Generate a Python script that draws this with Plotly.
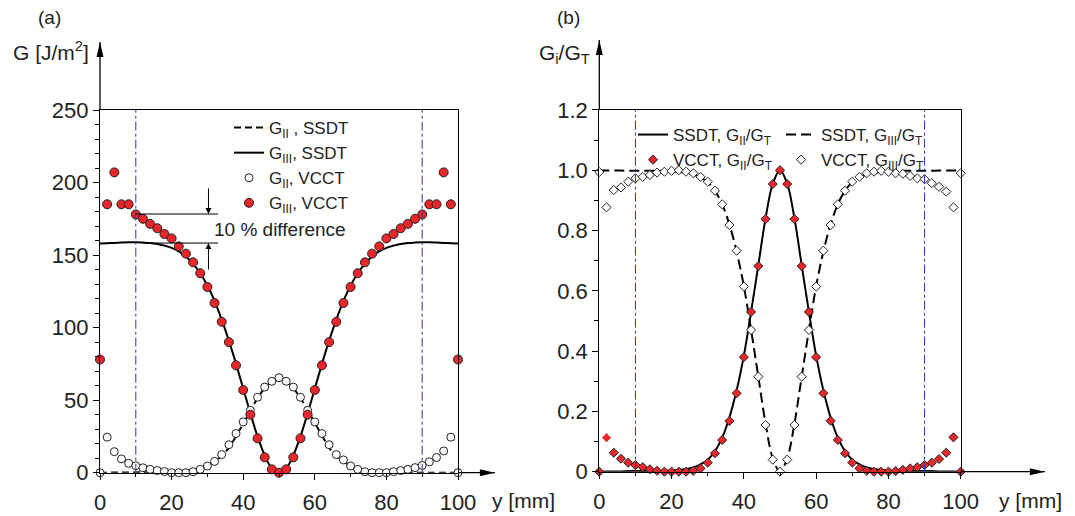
import plotly.graph_objects as go

# positions along the crack front [mm]
y_mm = [0, 2, 4, 6, 8, 10, 12, 14, 16, 18, 20, 22, 24, 26, 28, 30, 32, 34, 36, 38, 40,
        42, 44, 46, 48, 50, 52, 54, 56, 58, 60, 62, 64, 66, 68, 70, 72, 74, 76, 78, 80,
        82, 84, 86, 88, 90, 92, 94, 96, 98, 100]

# (a) energy release rates [J/m^2]
g2_ssdt = [0, 0, 0, 0, 0, 0, 0, 0, 0, 0, 0.2, 0.5, 1, 1.8, 3, 4.8, 7.5, 11.5, 17, 25, 34,
           43, 51.5, 58.5, 63.5, 65, 63.5, 58.5, 51.5, 43, 34, 25, 17, 11.5, 7.5, 4.8, 3, 1.8, 1, 0.5, 0.2,
           0, 0, 0, 0, 0, 0, 0, 0, 0, 0]
g3_ssdt = [158, 158.2, 158.4, 158.6, 158.8, 158.8, 158.6, 158.3, 157.6, 156.5, 155, 152.5, 149, 144,
           137.5, 129, 118.5, 105.5, 91, 75, 58, 41, 25, 12, 3, 0, 3, 12, 25, 41, 58, 75, 91, 105.5,
           118.5, 129, 137.5, 144, 149, 152.5, 155, 156.5, 157.6, 158.3, 158.6, 158.8, 158.8, 158.6,
           158.4, 158.2, 158]
g2_vcct = [0, 24.5, 14.5, 9.5, 6.5, 4.8, 3.4, 2.3, 1.5, 0.8, 0, 0, 0, 0.7, 2.3, 4.6, 7.8, 12.5, 19.3,
           27, 35, 43, 52, 59, 63, 65.5, 63, 59, 52, 43, 35, 27, 19.3, 12.5, 8.8, 4.6, 2.3, 0.7, 0, 0, 0,
           0.7, 1.5, 2.3, 3.5, 5, 7.5, 10.5, 15, 24.5, 0]
g3_vcct = [78, 185, 207, 185, 185, 178, 175, 171.5, 168.5, 164.5, 161.5, 156, 151, 145, 137.5, 128,
           117, 104, 90, 74, 57, 40, 23.7, 10.6, 2.3, 0, 2.3, 10.6, 23.7, 40, 57, 74, 90, 104, 117, 128,
           137.5, 145, 151, 156, 161.5, 164.5, 168.5, 171.5, 175, 178, 185, 185, 207, 185, 78]

# (b) mode ratios G_i / G_T
r2_ssdt = [0, 0.001, 0.001, 0.001, 0.002, 0.002, 0.002, 0.002, 0.002, 0.003, 0.004, 0.006, 0.009,
           0.014, 0.024, 0.04, 0.068, 0.113, 0.18, 0.27, 0.385, 0.53, 0.685, 0.84, 0.955, 1.0, 0.955,
           0.84, 0.685, 0.53, 0.385, 0.27, 0.18, 0.113, 0.068, 0.04, 0.024, 0.014, 0.009, 0.006, 0.004,
           0.003, 0.002, 0.002, 0.002, 0.002, 0.002, 0.001, 0.001, 0.001, 0]
r3_ssdt = [1.0, 0.999, 0.999, 0.999, 0.998, 0.998, 0.998, 0.998, 0.998, 0.997, 0.996, 0.994, 0.991,
           0.986, 0.976, 0.96, 0.932, 0.887, 0.82, 0.73, 0.615, 0.47, 0.315, 0.16, 0.045, 0, 0.045,
           0.16, 0.315, 0.47, 0.615, 0.73, 0.82, 0.887, 0.932, 0.96, 0.976, 0.986, 0.991, 0.994, 0.996,
           0.997, 0.998, 0.998, 0.998, 0.998, 0.998, 0.999, 0.999, 0.999, 1.0]
r2_vcct = [0, 0.113, 0.063, 0.043, 0.03, 0.022, 0.015, 0.008, 0.003, 0, 0, 0, 0, 0.003, 0.011, 0.03,
           0.061, 0.105, 0.168, 0.26, 0.38, 0.53, 0.682, 0.838, 0.954, 1.0, 0.954, 0.838, 0.682, 0.53,
           0.38, 0.26, 0.169, 0.105, 0.061, 0.03, 0.011, 0.003, 0, 0, 0, 0.002, 0.006, 0.011, 0.015,
           0.022, 0.03, 0.042, 0.063, 0.114, 0]
r3_vcct = [0.994, 0.877, 0.934, 0.943, 0.962, 0.973, 0.978, 0.984, 0.992, 0.995, 0.998, 1.0, 0.995,
           0.99, 0.978, 0.962, 0.932, 0.887, 0.818, 0.733, 0.614, 0.47, 0.315, 0.155, 0.04, 0, 0.04,
           0.155, 0.315, 0.47, 0.614, 0.733, 0.818, 0.887, 0.932, 0.962, 0.978, 0.99, 0.995, 0.998,
           0.995, 0.99, 0.988, 0.981, 0.973, 0.97, 0.957, 0.945, 0.929, 0.877, 0.99]

edge_lines = [10, 90]
x_ticks = [0, 20, 40, 60, 80, 100]
ya_ticks = [0, 50, 100, 150, 200, 250]
yb_ticks = [0, 0.2, 0.4, 0.6, 0.8, 1.0, 1.2]
yb_labels = ['0', '0.2', '0.4', '0.6', '0.8', '1.0', '1.2']

RED = 'rgb(232,38,44)'
FONT = 'Liberation Sans, Arial, sans-serif'

# the page body adds an 8 px margin, so the figure is sized to fit inside the window
OFF = 8
W, H = 1075 - OFF, 516 - OFF


def px(p):
    return (p - OFF) / W


def py(p):
    return 1 - (p - OFF) / H


fig = go.Figure()

# ---- panel (a)
fig.add_trace(go.Scatter(x=y_mm, y=g2_ssdt, mode='lines', line=dict(color='black', width=2, dash='7px,4px'),
                         name='G<sub>II</sub> , SSDT', legend='legend'))
fig.add_trace(go.Scatter(x=y_mm, y=g3_ssdt, mode='lines', line=dict(color='black', width=2, shape='spline'),
                         name='G<sub>III</sub>, SSDT', legend='legend'))
fig.add_trace(go.Scatter(x=y_mm, y=g2_vcct, mode='markers', cliponaxis=False,
                         marker=dict(symbol='circle', size=8, color='white', line=dict(color='#222', width=1)),
                         name='G<sub>II</sub>, VCCT', legend='legend'))
fig.add_trace(go.Scatter(x=y_mm, y=g3_vcct, mode='markers', cliponaxis=False,
                         marker=dict(symbol='circle', size=9, color=RED, line=dict(color='#222', width=1)),
                         name='G<sub>III</sub>, VCCT', legend='legend'))

# ---- panel (b)
border = [1] * len(y_mm)
border[1] = 0
fig.add_trace(go.Scatter(x=y_mm, y=r2_ssdt, mode='lines', xaxis='x2', yaxis='y2',
                         line=dict(color='black', width=2, shape='spline'),
                         name='SSDT, G<sub>II</sub>/G<sub>T</sub>', legend='legend2'))
fig.add_trace(go.Scatter(x=y_mm, y=r3_ssdt, mode='lines', xaxis='x2', yaxis='y2',
                         line=dict(color='black', width=2, dash='10px,5px', shape='spline'),
                         name='SSDT, G<sub>III</sub>/G<sub>T</sub>', legend='legend3'))
fig.add_trace(go.Scatter(x=y_mm, y=r2_vcct, mode='markers', xaxis='x2', yaxis='y2', cliponaxis=False,
                         marker=dict(symbol='diamond', size=7, color=RED, line=dict(color='#222', width=border)),
                         name='VCCT, G<sub>II</sub>/G<sub>T</sub>', legend='legend2'))
fig.add_trace(go.Scatter(x=y_mm, y=r3_vcct, mode='markers', xaxis='x2', yaxis='y2', cliponaxis=False,
                         marker=dict(symbol='diamond', size=7, color='white', line=dict(color='#222', width=1)),
                         name='VCCT, G<sub>III</sub>/G<sub>T</sub>', legend='legend3'))

shapes = []
for xa, ya in (('x', 'y'), ('x2', 'y2')):
    for xv in edge_lines:
        shapes.append(dict(type='line', xref=xa, yref=ya + ' domain', x0=xv, x1=xv, y0=0, y1=1,
                           line=dict(color='rgb(50,50,170)', width=1, dash='dashdot')))

# axis arrows (extensions beyond the frame)
for xa, ya, xtip, ytip in (('x', 'y', 1.103, 1.1875), ('x2', 'y2', 1.233, 1.193)):
    shapes.append(dict(type='line', xref=xa + ' domain', yref=ya + ' domain', x0=1, x1=xtip, y0=0, y1=0,
                       line=dict(color='black', width=1.3)))
    shapes.append(dict(type='line', xref=xa + ' domain', yref=ya + ' domain', x0=0, x1=0, y0=1, y1=ytip,
                       line=dict(color='black', width=1.3)))
    shapes.append(dict(type='path', xref=xa + ' domain', yref=ya + ' domain', xsizemode='pixel',
                       ysizemode='pixel', xanchor=xtip, yanchor=0, path='M-15,3.5 L0,0 L-15,-3.5 Z',
                       fillcolor='black', line=dict(width=0)))
    shapes.append(dict(type='path', xref=xa + ' domain', yref=ya + ' domain', xsizemode='pixel',
                       ysizemode='pixel', xanchor=0, yanchor=ytip, path='M-3.5,-15 L0,0 L3.5,-15 Z',
                       fillcolor='black', line=dict(width=0)))

# 10 % difference marker lines
shapes.append(dict(type='line', xref='x', yref='y', x0=10, x1=33, y0=178.3, y1=178.3,
                   line=dict(color='black', width=1)))
shapes.append(dict(type='line', xref='x', yref='y', x0=12, x1=33, y0=158.3, y1=158.3,
                   line=dict(color='black', width=1)))


def label(x, y, text, size, xanchor='center'):
    return dict(x=px(x), y=py(y), xref='paper', yref='paper', text=text, showarrow=False,
                xanchor=xanchor, yanchor='middle', font=dict(size=size))


annotations = [
    dict(x=30.3, y=178.3, ax=30.3, ay=197, xref='x', yref='y', axref='x', ayref='y', text='',
         showarrow=True, arrowhead=2, arrowsize=1.2, arrowwidth=1, arrowcolor='black'),
    dict(x=30.3, y=158.3, ax=30.3, ay=139, xref='x', yref='y', axref='x', ayref='y', text='',
         showarrow=True, arrowhead=2, arrowsize=1.2, arrowwidth=1, arrowcolor='black'),
    dict(x=31.2, y=167.5, xref='x', yref='y', text='10 % difference', showarrow=False,
         xanchor='left', yanchor='middle', font=dict(size=19)),
    label(49, 18, '(a)', 19),
    label(568, 18, '(b)', 19),
    label(91, 51, 'G [J/m<sup>2</sup>]', 21, 'right'),
    label(592, 54, 'G<sub>i</sub>/G<sub>T</sub>', 21, 'right'),
    label(490, 500, 'y [mm]', 21, 'left'),
    label(997, 500, 'y [mm]', 21, 'left'),
]

axis_common = dict(showline=True, linecolor='black', linewidth=1.3, mirror=True, showgrid=False,
                   zeroline=False, ticks='outside', ticklen=6, tickwidth=1.2, tickcolor='black',
                   automargin=False, tickfont=dict(size=22, color='#222'))

legend_common = dict(xanchor='left', yanchor='top', bgcolor='rgba(0,0,0,0)', borderwidth=0,
                     font=dict(size=17, color='#222'), tracegroupgap=0, itemclick=False)

fig.update_layout(
    width=W, height=H,
    margin=dict(l=0, r=0, t=0, b=0),
    paper_bgcolor='white', plot_bgcolor='white',
    font=dict(family=FONT, color='#222'),
    showlegend=True,
    xaxis=dict(domain=[px(100), px(458)], range=[0, 100], tickvals=x_ticks, ticklabelstandoff=4,
               minor=dict(dtick=10, ticklen=3, ticks='outside', tickcolor='black'), **axis_common),
    yaxis=dict(domain=[py(472.7), py(110)], range=[0, 250], tickvals=ya_ticks,
               minor=dict(dtick=10, ticklen=4, ticks='outside', tickcolor='black'), **axis_common),
    xaxis2=dict(domain=[px(599.3), px(960.7)], range=[0, 100], tickvals=x_ticks, anchor='y2',
                ticklabelstandoff=4,
                minor=dict(dtick=10, ticklen=3, ticks='outside', tickcolor='black'), **axis_common),
    yaxis2=dict(domain=[py(471.7), py(109.9)], range=[0, 1.2], tickvals=yb_ticks,
                ticktext=yb_labels, anchor='x2',
                minor=dict(dtick=0.1, ticklen=4, ticks='outside', tickcolor='black'), **axis_common),
    legend=dict(x=px(229), y=py(110), **legend_common),
    legend2=dict(x=px(633), y=py(117), **legend_common),
    legend3=dict(x=px(781), y=py(117), **legend_common),
    shapes=shapes,
    annotations=annotations,
)

fig.write_html("out.html")
